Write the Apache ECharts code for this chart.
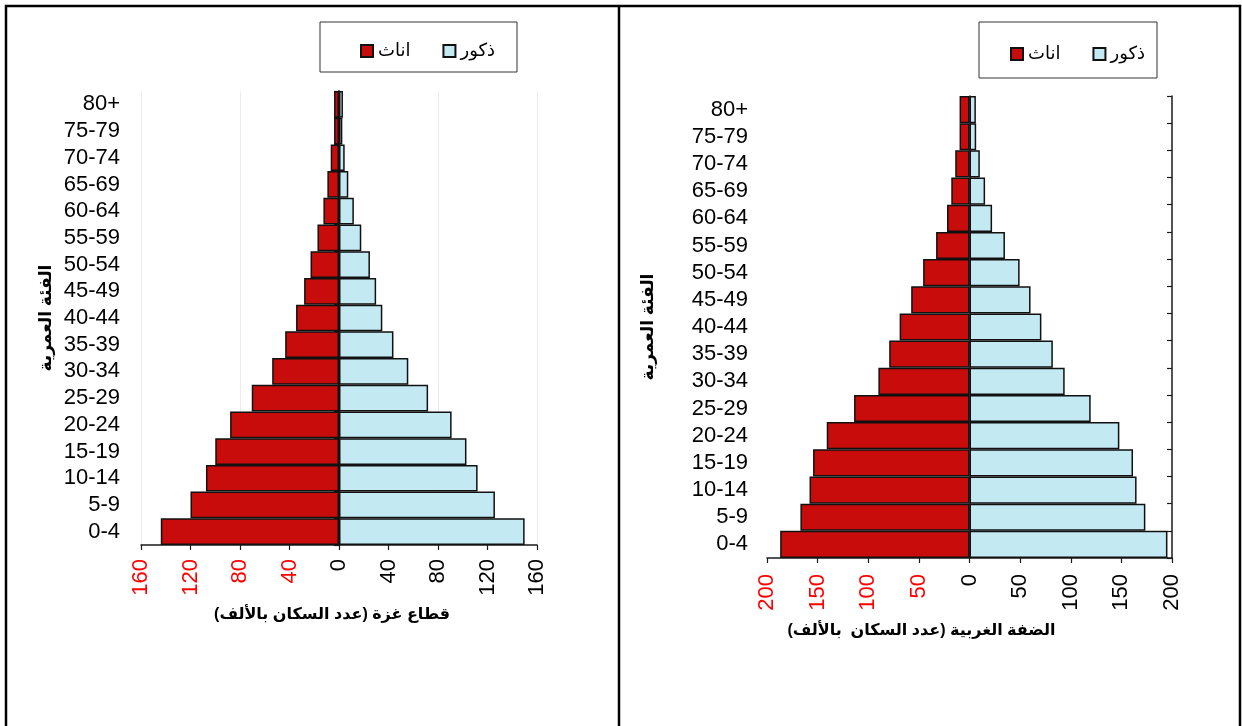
<!DOCTYPE html>
<html>
<head>
<meta charset="utf-8">
<script src="https://cdn.jsdelivr.net/npm/echarts@6/dist/echarts.min.js"></script>
<style>
html,body{margin:0;padding:0;background:#fff;}
#c{width:1242px;height:726px;}
</style>
</head>
<body>
<div id="c"></div>
<script>
// Age groups (bottom to top)
const ageGroups = ['0-4','5-9','10-14','15-19','20-24','25-29','30-34','35-39','40-44','45-49','50-54','55-59','60-64','65-69','70-74','75-79','80+'];

// Gaza Strip (thousands)
const gazaMales   = [150, 126, 112, 103, 91, 72, 56, 44, 35, 30, 25, 18, 12, 7.5, 4.6, 2.7, 3.2];
const gazaFemales = [144, 120, 107.5, 100, 88, 70.5, 54, 43.5, 34.7, 28.2, 23, 17.4, 12.6, 9.4, 6.7, 4, 4];

// West Bank (thousands)
const wbMales   = [195.5, 173.7, 165, 161.5, 148, 119.7, 94, 82.3, 71, 60.3, 49.5, 35, 22.3, 15.4, 10.2, 6.6, 6.3];
const wbFemales = [187, 167, 158, 154.5, 141, 114, 90, 79.3, 69, 57.6, 45.8, 33, 22.2, 18, 14.1, 9.8, 9.8];

// Axis ticks
const gazaTicks = {min: -160, max: 160, interval: 40};
const wbTicks   = {min: -200, max: 200, interval: 50};

// Text
const nameMale = 'ذكور';
const nameFemale = 'اناث';
const yName = 'الفئة العمرية';
const gazaXName = 'قطاع غزة (عدد السكان بالألف)\u200F';
const wbXName = 'الضفة الغربية (عدد السكان  بالألف)\u200F';

const FONT = "'Liberation Sans', Arial, 'DejaVu Sans', sans-serif";
const RED = '#C80C0C';
const BLUE = '#C3E9F3';
const AX = '#1a1a1a';

function xAxisCfg(gridIndex, ticks, name, nameGap, namePad, margin) {
  return {
    type: 'value', gridIndex: gridIndex, position: 'bottom',
    min: ticks.min, max: ticks.max, interval: ticks.interval,
    name: name, nameLocation: 'middle', nameGap: nameGap,
    nameTextStyle: {fontFamily: FONT, fontSize: 16, fontWeight: 'bold', color: '#000', padding: namePad},
    axisLine: {show: true, onZero: false, lineStyle: {color: AX, width: 1.5}},
    axisTick: {show: true, length: 5, lineStyle: {color: AX, width: 1.2}},
    axisLabel: {
      rotate: 90, margin: margin, fontFamily: FONT, fontSize: 22, color: '#000',
      formatter: function (v) { return v < 0 ? '{neg|' + (-v) + '}' : String(v); },
      rich: {neg: {color: '#FF0000', fontFamily: FONT, fontSize: 22}}
    },
    splitLine: {show: false}
  };
}
function gridLineAxis(gridIndex, ticks, step) {
  return {
    type: 'value', gridIndex: gridIndex, position: 'top',
    min: ticks.min, max: ticks.max, interval: step,
    axisLine: {show: false}, axisTick: {show: false}, axisLabel: {show: false},
    splitLine: {show: true, lineStyle: {color: '#ececec', width: 1}}
  };
}
function yAxisCfg(gridIndex, nameGap, margin) {
  return {
    type: 'category', gridIndex: gridIndex, data: ageGroups, position: 'left',
    name: yName, nameLocation: 'middle', nameGap: nameGap, nameRotate: 90,
    nameTextStyle: {fontFamily: FONT, fontSize: 17, fontWeight: 'bold', color: '#000'},
    axisLine: {show: true, lineStyle: {color: AX, width: 1.5}},
    axisTick: {show: false},
    axisLabel: {interval: 0, margin: margin, fontFamily: FONT, fontSize: 22, color: '#000'}
  };
}
function yRightCfg(gridIndex) {
  return {
    type: 'category', gridIndex: gridIndex, data: ageGroups, position: 'right',
    axisLine: {show: true, lineStyle: {color: AX, width: 1.5}},
    axisTick: {show: true, inside: true, interval: 0, length: 5, lineStyle: {color: AX, width: 1.2}},
    axisLabel: {show: false}
  };
}
function barSeries(name, data, color, xi, yi) {
  return {
    type: 'bar', name: name, xAxisIndex: xi, yAxisIndex: yi, data: data,
    barWidth: '100%', barGap: '-100%',
    itemStyle: {color: color, borderColor: '#111', borderWidth: 1.5},
    emphasis: {disabled: true}
  };
}
function legendCfg(left, top) {
  return {
    data: [nameFemale, nameMale], left: left, top: top, orient: 'horizontal',
    itemWidth: 12, itemHeight: 12, itemGap: 32, icon: 'rect',
    textStyle: {fontFamily: FONT, fontSize: 18, color: '#000'},
    selectedMode: false
  };
}

const chart = echarts.init(document.getElementById('c'), null, {renderer: 'canvas'});
chart.setOption({
  animation: false,
  backgroundColor: '#fff',
  grid: [
    {left: 141, right: 1242 - 537, top: 91, bottom: 726 - 545},
    {left: 767, right: 1242 - 1172, top: 96, bottom: 726 - 558}
  ],
  xAxis: [
    xAxisCfg(0, gazaTicks, gazaXName, 62, [0, 14, 0, 0], 14),
    xAxisCfg(1, wbTicks, wbXName, 65, [0, 96, 0, 0], 16),
    gridLineAxis(0, gazaTicks, 80)
  ],
  yAxis: [
    yAxisCfg(0, 86, 21),
    yAxisCfg(1, 110, 19),
    yRightCfg(0),
    yRightCfg(1)
  ],
  legend: [legendCfg(355, 37), legendCfg(1005, 40)],
  series: [
    barSeries(nameFemale, gazaFemales.map(v => -v), RED, 0, 0),
    barSeries(nameMale, gazaMales, BLUE, 0, 0),
    barSeries(nameFemale, wbFemales.map(v => -v), RED, 1, 1),
    barSeries(nameMale, wbMales, BLUE, 1, 1)
  ],
  graphic: [
    {type: 'rect', shape: {x: 320, y: 22, width: 197, height: 50}, style: {fill: 'none', stroke: '#333', lineWidth: 1}, z: 100},
    {type: 'rect', shape: {x: 979, y: 22, width: 178, height: 56}, style: {fill: 'none', stroke: '#333', lineWidth: 1}, z: 100},
    {type: 'polyline', shape: {points: [[6, 740], [6, 6], [1240, 6], [1240, 740]]}, style: {fill: 'none', stroke: '#000', lineWidth: 2.5}, z: 100},
    {type: 'line', shape: {x1: 619, y1: 6, x2: 619, y2: 740}, style: {stroke: '#000', lineWidth: 2.5}, z: 100}
  ]
});
</script>
</body>
</html>
